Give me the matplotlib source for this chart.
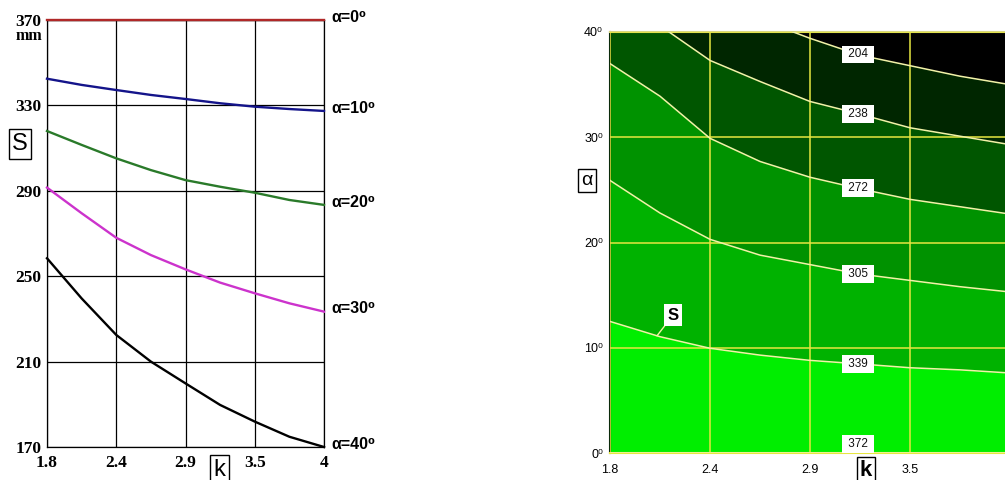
import numpy as np
import matplotlib
matplotlib.use("Agg")
import matplotlib.pyplot as plt

# ---------------- data ----------------
k = [1.8, 2.075, 2.35, 2.625, 2.9, 3.175, 3.45, 3.725, 4.0]
k_ticks = [1.8, 2.35, 2.9, 3.45, 4.0]
k_labels = ["1.8", "2.4", "2.9", "3.5", "4"]

# left chart: S (mm) vs k for several alpha
alphas = [0, 10, 20, 30, 40]
S_a0 = [370, 370, 370, 370, 370, 370, 370, 370, 370]
S_a10 = [342.5, 339.6, 337.2, 334.9, 333.0, 331.0, 329.4, 328.3, 327.4]
S_a20 = [318.0, 311.5, 305.2, 299.7, 295.0, 291.9, 289.1, 285.7, 283.4]
S_a30 = [291.5, 279.5, 268.0, 259.9, 253.2, 247.0, 242.0, 237.3, 233.4]
S_a40 = [258.4, 239.6, 222.5, 210.0, 199.8, 189.7, 181.9, 174.8, 170.0]
S_ticks = [170, 210, 250, 290, 330, 370]

# right chart: contour lines of S, alpha (deg) as function of k
levels = [204, 238, 272, 305, 339, 372]
c204 = [48.5, 45.5, 43.0, 41.2, 39.4, 37.8, 36.8, 35.8, 35.0]
c238 = [45.0, 40.6, 37.3, 35.3, 33.4, 32.2, 30.9, 30.1, 29.3]
c272 = [37.0, 33.9, 29.9, 27.7, 26.2, 25.1, 24.1, 23.4, 22.7]
c305 = [25.9, 22.8, 20.3, 18.8, 17.9, 17.0, 16.4, 15.8, 15.3]
c339 = [12.5, 11.05, 9.95, 9.3, 8.8, 8.46, 8.1, 7.9, 7.6]
c372 = [0, 0, 0, 0, 0, 0, 0, 0, 0]
alpha_ticks = [0, 10, 20, 30, 40]

# ---------------- styling ----------------
line_colors = ["#b02828", "#14148a", "#2a7a2a", "#cc33cc", "#000000"]
fill_colors = ["#002600", "#005600", "#009200", "#00b200", "#00ee00"]
sans = ["Liberation Sans", "DejaVu Sans"]
serif = ["Liberation Serif", "DejaVu Serif"]

fig = plt.figure(figsize=(10.05, 4.8), dpi=100)
W, H = 1005.0, 480.0

# ---------------- left chart ----------------
ax1 = fig.add_axes([47 / W, 1 - 447 / H, 277 / W, 427 / H])
series = [S_a0, S_a10, S_a20, S_a30, S_a40]
for a, s, c in zip(alphas, series, line_colors):
    ax1.plot(k, s, color=c, lw=1.7, clip_on=False, zorder=3,
             solid_joinstyle="round")
    ax1.annotate(f"α={a}⁰", xy=(k[-1], s[-1]), xytext=(5, 2),
                 textcoords="offset points", ha="left", va="center",
                 fontsize=11.5, fontweight="bold", family=sans,
                 annotation_clip=False)
ax1.set_xlim(k[0], k[-1])
ax1.set_ylim(S_ticks[0], S_ticks[-1])
ax1.set_xticks(k_ticks, k_labels)
ax1.set_yticks(S_ticks, [str(v) for v in S_ticks])
ax1.grid(True, color="black", lw=0.9)
ax1.set_axisbelow(True)
ax1.tick_params(axis="both", length=0)
ax1.tick_params(axis="x", pad=6)
ax1.tick_params(axis="y", pad=4)
for lab in ax1.get_xticklabels() + ax1.get_yticklabels():
    lab.set_fontfamily(serif)
    lab.set_fontweight("bold")
    lab.set_fontsize(12.5)
for sp in ax1.spines.values():
    sp.set_color("black")
    sp.set_linewidth(0.9)

fig.text(42 / W, 1 - 36 / H, "mm", ha="right", va="center",
         fontsize=11.5, fontweight="bold", family=serif)
fig.text(20 / W, 1 - 144 / H, "S", ha="center", va="center", fontsize=17,
         family=sans,
         bbox=dict(boxstyle="square,pad=0.15", fc="white", ec="black", lw=1))
fig.text(219.5 / W, 1 - 470 / H, "k", ha="center", va="center", fontsize=17,
         family=sans,
         bbox=dict(boxstyle="square,pad=0.15", fc="white", ec="black", lw=1))

# ---------------- right chart ----------------
ax2 = fig.add_axes([610 / W, 1 - 453 / H, 400 / W, 421 / H])
ax2.set_facecolor("black")
contours = [c204, c238, c272, c305, c339, c372]
for line, col in zip(contours[:-1], fill_colors):
    ax2.fill_between(k, 0, line, color=col, lw=0, zorder=1)
ax2.set_xlim(k[0], k[-1])
ax2.set_ylim(alpha_ticks[0], alpha_ticks[-1])
ax2.set_xticks(k_ticks, k_labels)
ax2.set_yticks(alpha_ticks, [f"{a}⁰" for a in alpha_ticks])
ax2.grid(True, color="#e6e640", lw=1.1, zorder=2)
ax2.set_axisbelow(False)
for line in contours:
    ax2.plot(k, line, color="#f2f2a8", lw=1.1, zorder=3)

k_lab = 3.164
for lev, line in zip(levels, contours):
    a = float(np.interp(k_lab, k, line))
    va = "bottom" if a < 1 else "center"
    ax2.text(k_lab, a + (0.3 if a < 1 else 0), f" {lev} ", ha="center", va=va,
             fontsize=8.5, family=sans, color="#111111", zorder=5,
             bbox=dict(boxstyle="square,pad=0.25", fc="white", ec="none"))

s_k = 2.0585
ax2.annotate("S", xy=(s_k, float(np.interp(s_k, k, c339))), xytext=(2.1465, 13.1),
             ha="center", va="center", fontsize=12, fontweight="bold", family=sans,
             zorder=6,
             bbox=dict(boxstyle="square,pad=0.2", fc="white", ec="none"),
             arrowprops=dict(arrowstyle="-", color="#f2f2a8", lw=1.0,
                             shrinkA=0, shrinkB=0))

ax2.tick_params(axis="both", length=0, labelsize=9)
ax2.tick_params(axis="x", pad=8)
ax2.tick_params(axis="y", pad=5)
for lab in ax2.get_xticklabels() + ax2.get_yticklabels():
    lab.set_fontfamily(sans)
# the last k label falls outside the visible picture in the reference
ax2.get_xticklabels()[-1].set_visible(False)
ax2.spines["left"].set_color("#0a2a0a")
ax2.spines["left"].set_linewidth(1.5)
ax2.spines["bottom"].set_color("#e6e640")
ax2.spines["bottom"].set_linewidth(1.5)
ax2.spines["top"].set_color("#d8d880")
ax2.spines["top"].set_linewidth(1.5)
ax2.spines["right"].set_visible(False)

fig.text(587 / W, 1 - 180.5 / H, "α", ha="center", va="center", fontsize=14,
         family=sans,
         bbox=dict(boxstyle="square,pad=0.15", fc="white", ec="black", lw=1))
fig.text(866 / W, 1 - 471 / H, "k", ha="center", va="center", fontsize=16,
         fontweight="bold", family=sans,
         bbox=dict(boxstyle="square,pad=0.15", fc="white", ec="black", lw=1))

fig.savefig("out.png", dpi=100)
